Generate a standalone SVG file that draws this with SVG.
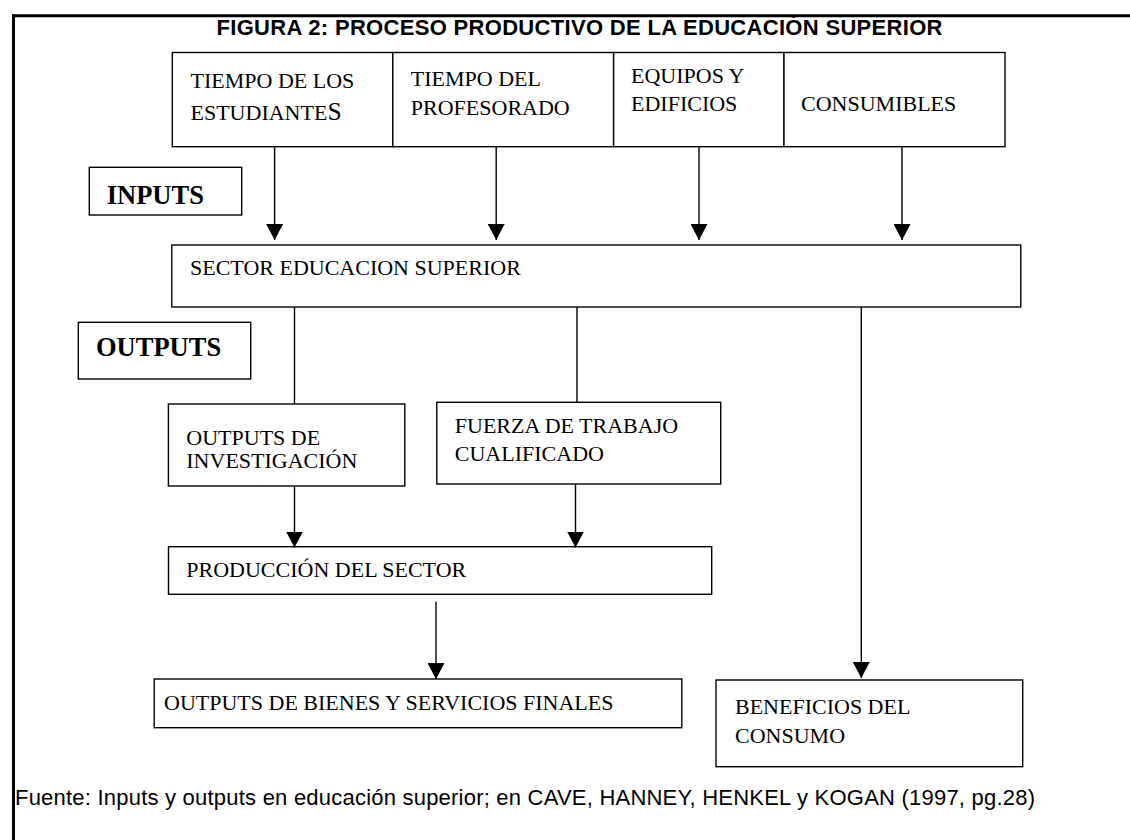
<svg xmlns="http://www.w3.org/2000/svg" width="1130" height="840" viewBox="0 0 1130 840">
<defs>
<style>
.box{fill:#fff;stroke:#000;stroke-width:1.4}
.t{font-family:"Liberation Serif","Times New Roman",serif;font-size:22px;fill:#000}
.b{font-family:"Liberation Serif","Times New Roman",serif;font-size:26.5px;font-weight:bold;fill:#000}
.ln{stroke:#000;stroke-width:1.4;fill:none}
.frame{stroke:#000;stroke-width:3;fill:none}
</style>
<marker id="ah" markerUnits="userSpaceOnUse" markerWidth="17" markerHeight="17" refX="16" refY="8.5" orient="auto" viewBox="0 0 17 17">
<path d="M0,0 L16,8.5 L0,17 Z" fill="#000"/>
</marker>
</defs>
<rect width="1130" height="840" fill="#fff"/>
<g id="frame">
<line class="frame" x1="12" y1="15.7" x2="1130" y2="15.7"/>
<line class="frame" x1="13.5" y1="14.5" x2="13.5" y2="840"/>
</g>
<text id="title" x="579.5" y="35" text-anchor="middle" font-family="'Liberation Sans',Arial,sans-serif" font-weight="bold" font-size="22" textLength="726" lengthAdjust="spacing">FIGURA 2: PROCESO PRODUCTIVO DE LA EDUCACIÓN SUPERIOR</text>

<g id="input-estudiantes">
<rect class="box" x="172.3" y="52.5" width="220.5" height="94.2"/>
<text class="t" x="190.5" y="88.3">TIEMPO DE LOS</text>
<text class="t" x="190.5" y="120">ESTUDIANTE<tspan font-size="25.5">S</tspan></text>
</g>
<g id="input-profesorado">
<rect class="box" x="392.8" y="52.5" width="220.8" height="94.2"/>
<text class="t" x="410.8" y="86">TIEMPO DEL</text>
<text class="t" x="410.8" y="115">PROFESORADO</text>
</g>
<g id="input-equipos">
<rect class="box" x="613.6" y="52.5" width="170.4" height="94.2"/>
<text class="t" x="631" y="82.7">EQUIPOS Y</text>
<text class="t" x="631" y="111">EDIFICIOS</text>
</g>
<g id="input-consumibles">
<rect class="box" x="784" y="52.5" width="221" height="94.2"/>
<text class="t" x="801" y="111">CONSUMIBLES</text>
</g>

<g id="label-inputs">
<rect class="box" x="89.3" y="167.3" width="152.4" height="47.7"/>
<text class="b" x="106.7" y="204">INPUTS</text>
</g>
<g id="label-outputs">
<rect class="box" x="78.3" y="322.3" width="172.4" height="56.7"/>
<text class="b" x="96" y="356">OUTPUTS</text>
</g>

<g id="sector">
<rect class="box" x="171.8" y="245" width="849" height="62"/>
<text class="t" x="190" y="275">SECTOR EDUCACION SUPERIOR</text>
</g>

<g id="investigacion">
<rect class="box" x="168.4" y="404" width="236.4" height="82"/>
<text class="t" x="186.3" y="445">OUTPUTS DE</text>
<text class="t" x="186.3" y="468.3">INVESTIGACIÓN</text>
</g>
<g id="fuerza">
<rect class="box" x="436.8" y="402.3" width="283.9" height="81.7"/>
<text class="t" x="454.8" y="433">FUERZA DE TRABAJO</text>
<text class="t" x="454.8" y="460.7">CUALIFICADO</text>
</g>

<g id="produccion">
<rect class="box" x="168.5" y="546.7" width="543.2" height="47.6"/>
<text class="t" x="186.3" y="576.7">PRODUCCIÓN DEL SECTOR</text>
</g>

<g id="bienes">
<rect class="box" x="154.2" y="679" width="527.6" height="48.7"/>
<text class="t" x="164" y="710">OUTPUTS DE BIENES Y SERVICIOS FINALES</text>
</g>
<g id="beneficios">
<rect class="box" x="716" y="680" width="306.7" height="86.7"/>
<text class="t" x="735" y="714.3">BENEFICIOS DEL</text>
<text class="t" x="735" y="743.3">CONSUMO</text>
</g>

<g id="connectors">
<line class="ln" x1="274.6" y1="146.7" x2="274.6" y2="240" marker-end="url(#ah)"/>
<line class="ln" x1="496.2" y1="146.7" x2="496.2" y2="240" marker-end="url(#ah)"/>
<line class="ln" x1="699" y1="146.7" x2="699" y2="240" marker-end="url(#ah)"/>
<line class="ln" x1="902" y1="146.7" x2="902" y2="240" marker-end="url(#ah)"/>
<line class="ln" x1="294.5" y1="307" x2="294.5" y2="404"/>
<line class="ln" x1="577" y1="307" x2="577" y2="402.3"/>
<line class="ln" x1="861.3" y1="307" x2="861.3" y2="678" marker-end="url(#ah)"/>
<line class="ln" x1="294.5" y1="486" x2="294.5" y2="547.5" marker-end="url(#ah)"/>
<line class="ln" x1="575.5" y1="484" x2="575.5" y2="547.5" marker-end="url(#ah)"/>
<line class="ln" x1="436" y1="601.7" x2="436" y2="679" marker-end="url(#ah)"/>
</g>

<text id="fuente" x="15" y="805" font-family="'Liberation Sans',Arial,sans-serif" font-size="22" fill="#000" textLength="1020" lengthAdjust="spacing">Fuente: Inputs y outputs en educación superior; en CAVE, HANNEY, HENKEL y KOGAN (1997, pg.28)</text>
</svg>
